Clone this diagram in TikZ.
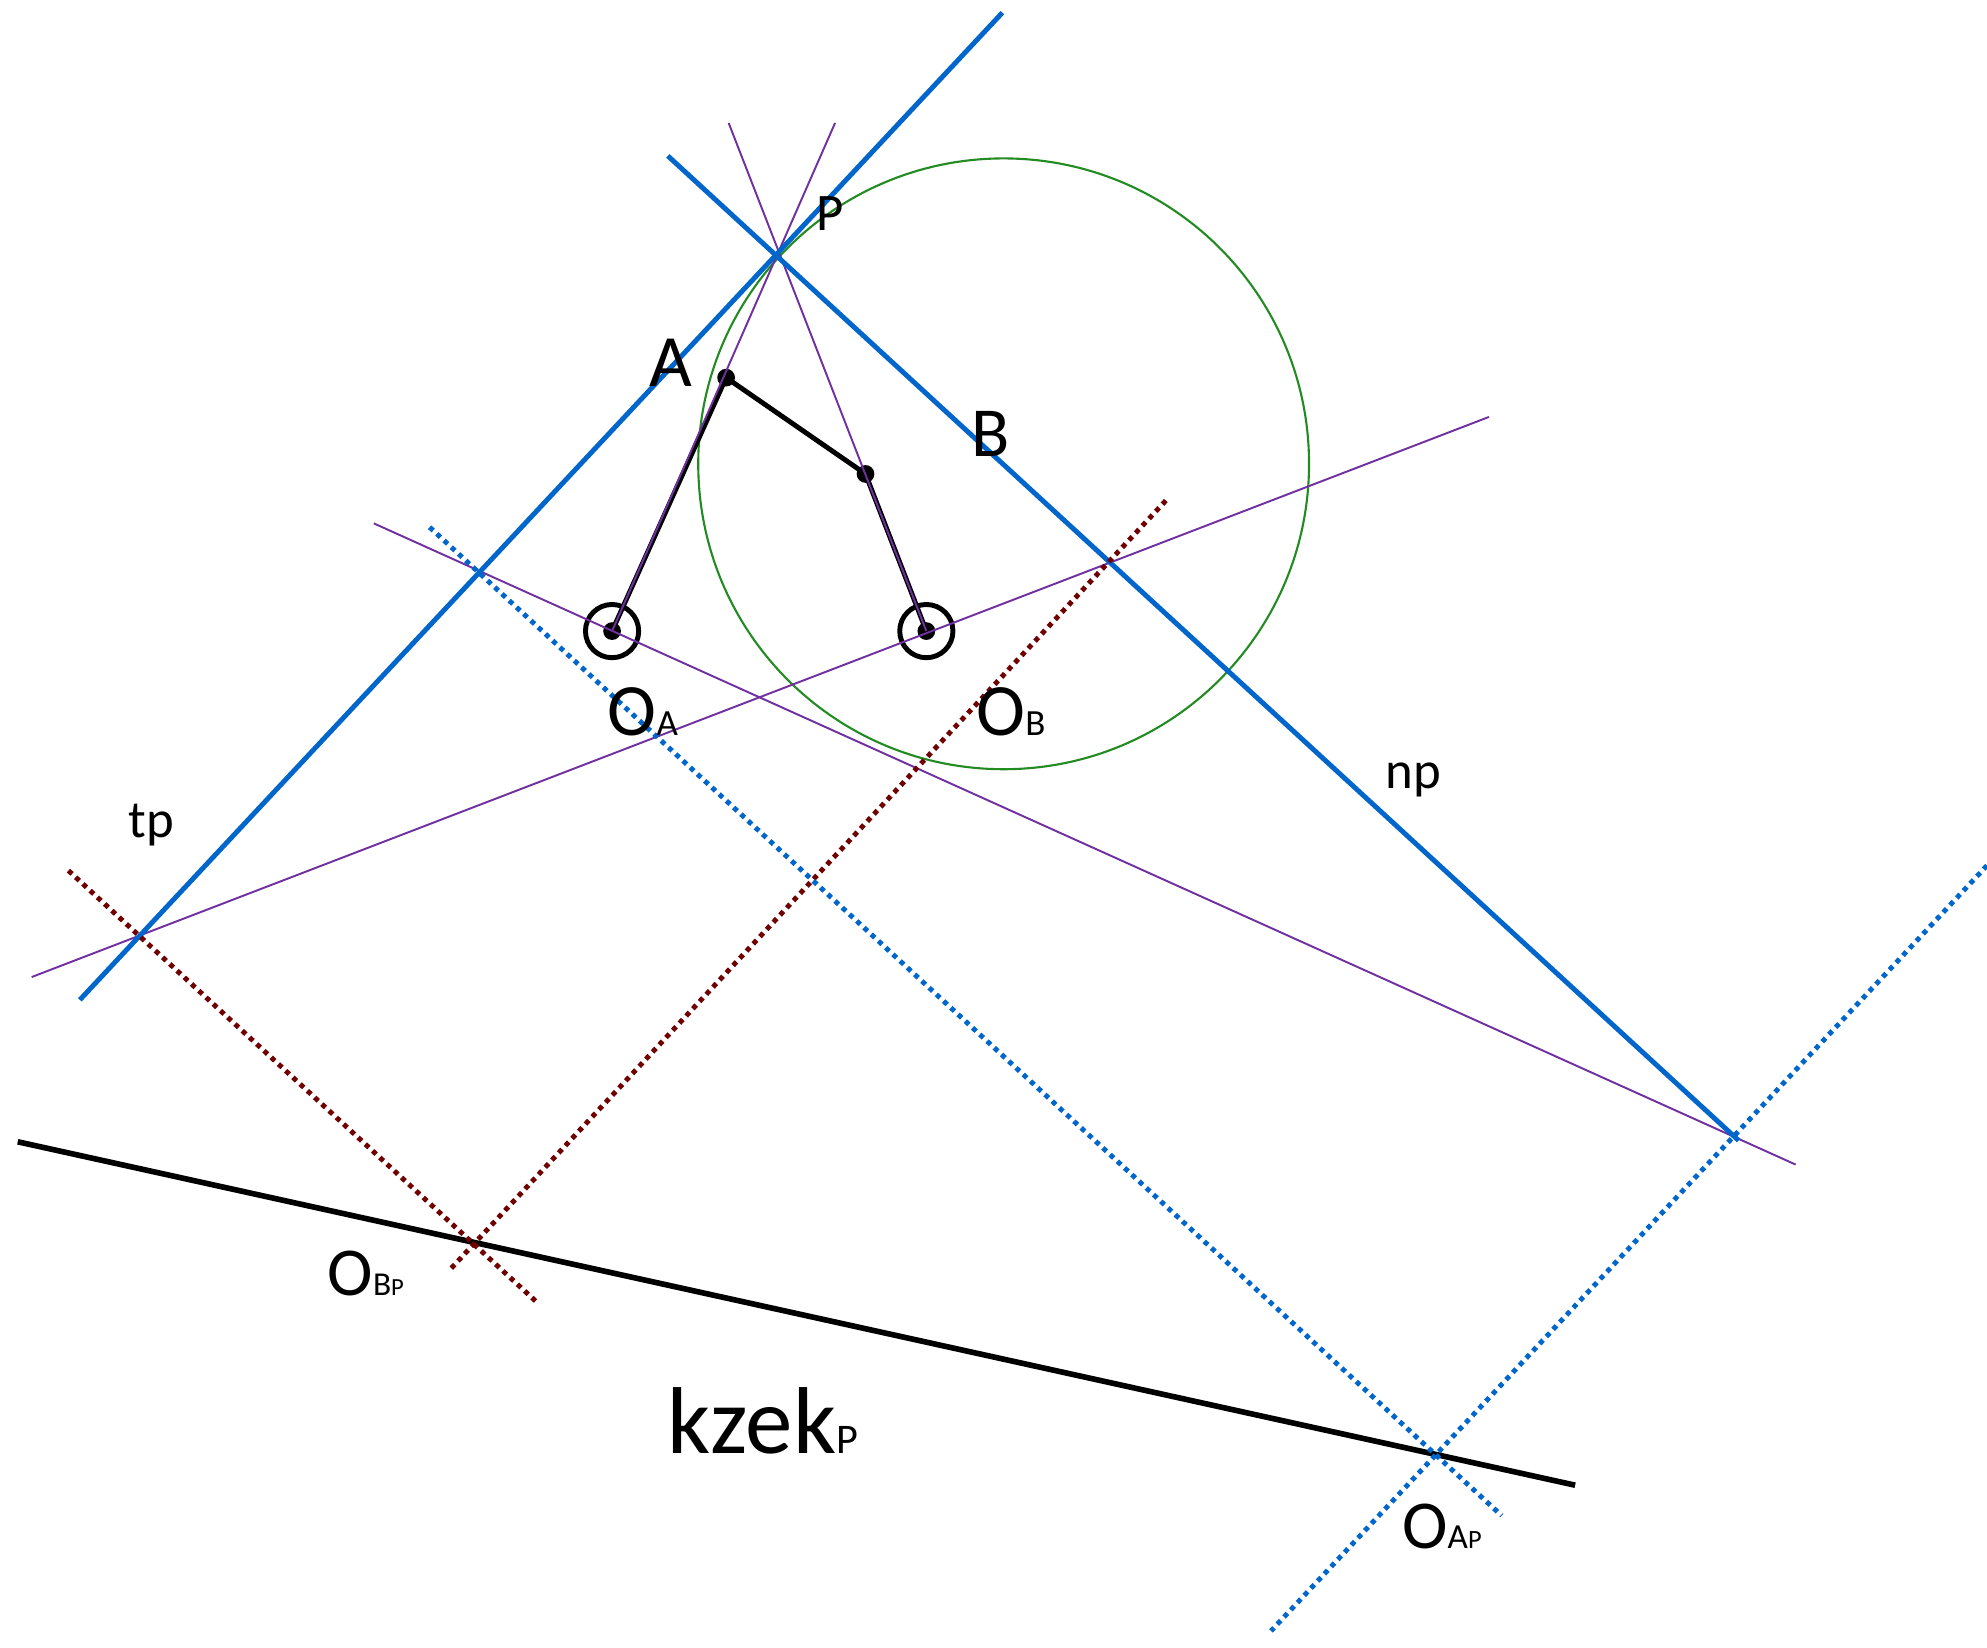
\documentclass[tikz,border=0pt]{standalone}
\usepackage{fontspec}
\setmainfont{Carlito}
\usetikzlibrary{positioning}
\definecolor{lineblue}{RGB}{0, 102, 204}
\definecolor{linepurple}{RGB}{112, 48, 160}
\definecolor{circlegreen}{RGB}{34, 139, 34}
\definecolor{darkred}{RGB}{112, 0, 0}
\newcommand{\fsz}[1]{\fontsize{#1}{#1}\selectfont}

\tikzset{
    thickblue/.style={draw=lineblue, line width=1.4pt},
    thinpurple/.style={draw=linepurple, line width=0.55pt},
    dotblue/.style={draw=lineblue, line width=1.4pt, dash pattern=on 1.4pt off 1.4pt},
    dotred/.style={draw=darkred, line width=1.4pt, dash pattern=on 1.4pt off 1.4pt},
    link/.style={draw=black, line width=1.4pt},
    kzekline/.style={draw=black, line width=1.6pt},
    lbl/.style={anchor=base west, inner sep=0pt}
}

\begin{document}
\begin{tikzpicture}[x=0.012672cm, y=-0.012672cm]
                % Mechanizm i proste pomocnicze
                \useasboundingbox (0,0) rectangle (1568,1300);
                \coordinate (P) at (612,201);
                \coordinate (OA) at (483,498);
                \coordinate (OB) at (731,498);
                \coordinate (A) at (573,298);
                \coordinate (B) at (683,374);
                \coordinate (C) at (792,366);
                \coordinate (tp1) at (63,789);
                \coordinate (tp2) at (791,10);
                \coordinate (np1) at (527,123);
                \coordinate (np2) at (1372,900);
                \coordinate (pa) at (659,97);
                \coordinate (pb) at (575,97);
                \coordinate (pc1) at (295,413);
                \coordinate (pc2) at (1417,919);
                \coordinate (pd1) at (25,771);
                \coordinate (pd2) at (1175,329);
                \coordinate (k1) at (14,901);
                \coordinate (k2) at (1243,1172);
                \coordinate (ra1) at (54,687);
                \coordinate (ra2) at (423,1027);
                \coordinate (rb1) at (920,395);
                \coordinate (rb2) at (355,1002);
                \coordinate (ba1) at (339,416);
                \coordinate (ba2) at (1185,1196);
                \coordinate (bb1) at (1568,683);
                \coordinate (bb2) at (1003,1287);

                \draw[circlegreen, line width=0.6pt] (C) circle (241);
                \draw[kzekline] (k1) -- (k2);
                \draw[link] (OA) -- (A) -- (B) -- (OB);
                \foreach \p in {OA,OB,A,B}
                    \fill (\p) circle (7);
                \foreach \p in {OA,OB}
                    \draw[link] (\p) circle (21);
                \draw[thinpurple] (pa) -- (OA);
                \draw[thinpurple] (pb) -- (OB);
                \draw[thinpurple] (pc1) -- (pc2);
                \draw[thinpurple] (pd1) -- (pd2);
                \draw[thickblue] (tp1) -- (tp2);
                \draw[thickblue] (np1) -- (np2);
                \draw[dotred] (ra1) -- (ra2);
                \draw[dotred] (rb1) -- (rb2);
                \draw[dotblue] (ba1) -- (ba2);
                \draw[dotblue] (bb1) -- (bb2);

                % Opisy
                \node[lbl] (labP) at (644,182) {\fsz{15}P};
                \node[lbl] (labA) at (512,305) {\fsz{21}A};
                \node[lbl] (labB) at (766,360) {\fsz{20}B};
                \node[lbl] (labOA) at (479,580) {\fsz{21}O\fsz{10.5}A};
                \node[lbl] (labOB) at (770,580) {\fsz{21}O\fsz{10.5}B};
                \node[lbl] (labtp) at (101,661) {\fsz{15}tp};
                \node[lbl] (labnp) at (1093,622) {\fsz{15}np};
                \node[lbl] (labOBp) at (258,1022) {\fsz{19.5}O\fsz{9.5}B\fsz{7}P};
                \node[lbl] (labkzek) at (526,1147) {\fsz{27}kzek\fsz{12}P};
                \node[lbl] (labOAp) at (1106,1222) {\fsz{19.5}O\fsz{10}A\fsz{7.5}P};
            \end{tikzpicture}
\end{document}
